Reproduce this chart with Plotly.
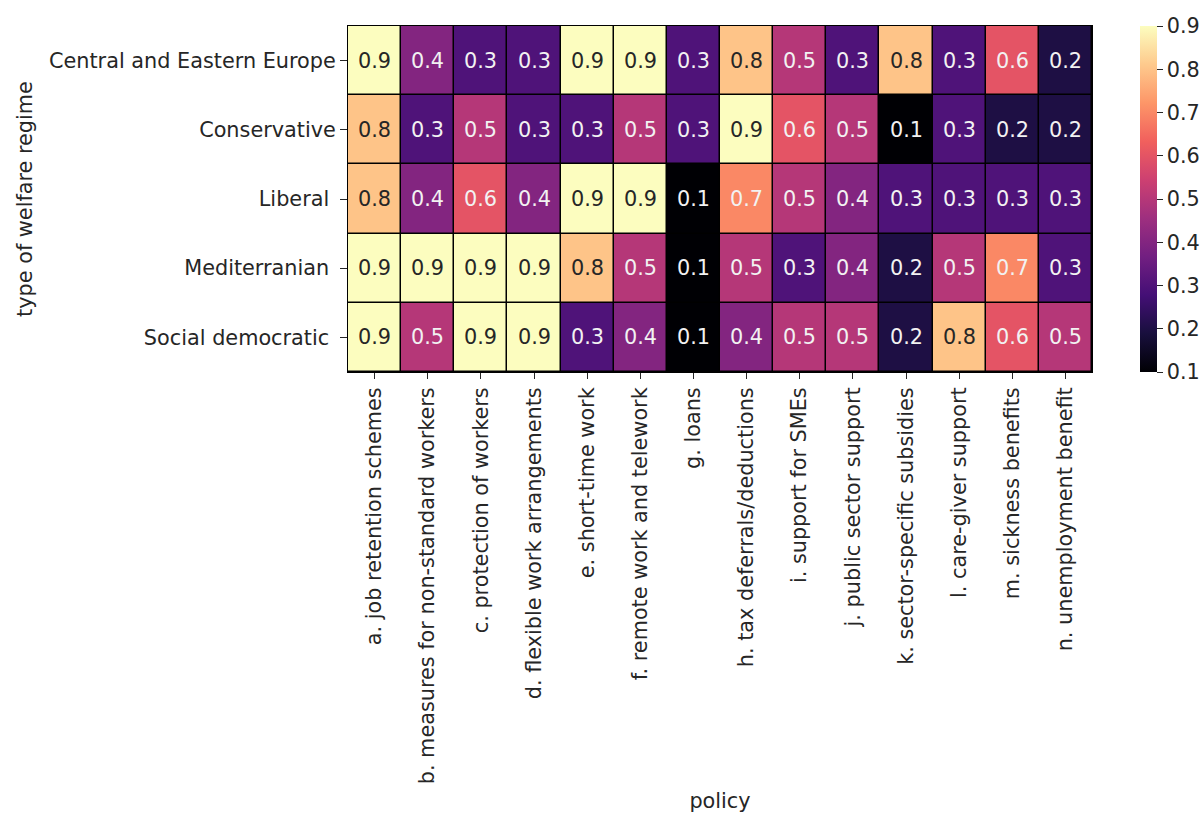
import plotly.graph_objects as go

# Welfare regimes (rows, top to bottom) and policy measures (columns)
regimes = [
    "Central and Eastern Europe",
    "Conservative",
    "Liberal\u00a0",
    "Mediterranian\u00a0",
    "Social democratic\u00a0",
]
policies = [
    "a. job retention schemes",
    "b. measures for non-standard workers",
    "c. protection of workers",
    "d. flexible work arrangements",
    "e. short-time work",
    "f. remote work and telework",
    "g. loans",
    "h. tax deferrals/deductions",
    "i. support for SMEs",
    "j. public sector support",
    "k. sector-specific subsidies",
    "l. care-giver support",
    "m. sickness benefits",
    "n. unemployment benefit",
]

# Share of countries adopting each policy, per regime
cee = [0.9, 0.4, 0.3, 0.3, 0.9, 0.9, 0.3, 0.8, 0.5, 0.3, 0.8, 0.3, 0.6, 0.2]
conservative = [0.8, 0.3, 0.5, 0.3, 0.3, 0.5, 0.3, 0.9, 0.6, 0.5, 0.1, 0.3, 0.2, 0.2]
liberal = [0.8, 0.4, 0.6, 0.4, 0.9, 0.9, 0.1, 0.7, 0.5, 0.4, 0.3, 0.3, 0.3, 0.3]
mediterranean = [0.9, 0.9, 0.9, 0.9, 0.8, 0.5, 0.1, 0.5, 0.3, 0.4, 0.2, 0.5, 0.7, 0.3]
social_democratic = [0.9, 0.5, 0.9, 0.9, 0.3, 0.4, 0.1, 0.4, 0.5, 0.5, 0.2, 0.8, 0.6, 0.5]

colorbar_ticks = [0.1, 0.2, 0.3, 0.4, 0.5, 0.6, 0.7, 0.8, 0.9]

z = [cee, conservative, liberal, mediterranean, social_democratic]

FONT = "DejaVu Sans"
FS = 20.8
TXT = "#262626"

fig = go.Figure(
    go.Heatmap(
        z=z,
        x=policies,
        y=regimes,
        colorscale="Magma",
        zmin=0.1,
        zmax=0.9,
        xgap=1.5,
        ygap=1.5,
        colorbar=dict(
            thickness=17,
            len=1,
            lenmode="fraction",
            y=0.5,
            yanchor="middle",
            x=1.0645,
            xanchor="left",
            xpad=0,
            ypad=0,
            outlinewidth=0,
            tickvals=colorbar_ticks,
            ticktext=[f"{v:.1f}" for v in colorbar_ticks],
            ticks="outside",
            ticklen=6,
            tickwidth=1.2,
            tickcolor=TXT,
            tickfont=dict(family=FONT, size=FS, color=TXT),
        ),
        hoverinfo="skip",
    )
)

# Cell value labels: dark text on light cells, white on dark cells
for r, row in enumerate(z):
    for c, v in enumerate(row):
        fig.add_annotation(
            x=policies[c],
            y=regimes[r],
            text=f"{v:.1f}",
            showarrow=False,
            font=dict(family=FONT, size=FS, color=TXT if v >= 0.75 else "#f2f2f2"),
        )

fig.update_layout(
    width=1204,
    height=814,
    margin=dict(l=348, r=112, t=26, b=442, autoexpand=False),
    paper_bgcolor="white",
    plot_bgcolor="black",
    font=dict(family=FONT, size=FS, color=TXT),
    xaxis=dict(
        automargin=False,
        tickangle=-90,
        ticks="outside",
        ticklen=6,
        tickwidth=1.2,
        tickcolor=TXT,
        tickfont=dict(family=FONT, size=FS, color=TXT),
        showgrid=False,
        zeroline=False,
        showline=True,
        mirror=True,
        linecolor="black",
        linewidth=1,
        title=dict(text="policy", font=dict(family=FONT, size=FS, color=TXT), standoff=10),
    ),
    yaxis=dict(
        automargin=False,
        autorange="reversed",
        ticks="outside",
        ticklen=7,
        tickwidth=1.2,
        tickcolor=TXT,
        tickfont=dict(family=FONT, size=FS, color=TXT),
        showgrid=False,
        zeroline=False,
        showline=True,
        mirror=True,
        linecolor="black",
        linewidth=1,
        title=dict(text="type of welfare regime", font=dict(family=FONT, size=FS, color=TXT), standoff=10),
    ),
)

fig.write_html("out.html")
